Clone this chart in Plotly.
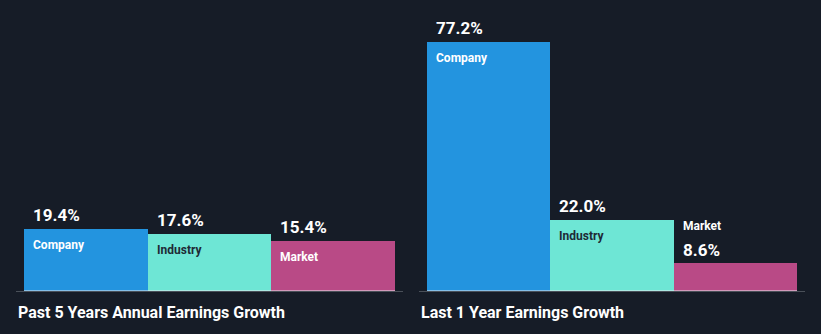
import plotly.graph_objects as go

categories = ["Company", "Industry", "Market"]
past5_values = [19.4, 17.6, 15.4]
last1_values = [77.2, 22.0, 8.6]
group_titles = ["Past 5 Years Annual Earnings Growth", "Last 1 Year Earnings Growth"]

colors = ["#2394df", "#6ee6d5", "#b94a86"]
label_colors = ["#ffffff", "#1e2a35", "#ffffff"]
BG = "#161c27"
W, H = 821, 334
FONT = "Roboto"

base_px = 291
px_per_unit = 3.22
y_top = base_px / px_per_unit
y_dom0 = (H - base_px) / H

# axis domains in pixels (line extends 8px past bars)
dom_left = (16 / W, 403 / W)
dom_right = (419 / W, 805 / W)
bar_px = (395 - 24) / 3.0
ext = 8 / bar_px

fig = go.Figure()
for i, (vals, xa, ya) in enumerate([(past5_values, "x", "y"), (last1_values, "x2", "y2")]):
    fig.add_trace(go.Bar(
        x=categories, y=vals, marker=dict(color=colors, line=dict(width=0)),
        width=1.0, xaxis=xa, yaxis=ya, hoverinfo="skip", showlegend=False,
    ))
    for j, (c, v) in enumerate(zip(categories, vals)):
        bar_h = v * px_per_unit
        if bar_h > 45:
            fig.add_annotation(x=j - 0.5, y=v, xref=xa, yref=ya, text=f"<b>{v:.1f}%</b>",
                               showarrow=False, xanchor="left", yanchor="middle",
                               xshift=7, yshift=14, font=dict(family=FONT, size=17, color="#ffffff"))
            fig.add_annotation(x=j - 0.5, y=v, xref=xa, yref=ya, text=f"<b>{c}</b>",
                               showarrow=False, xanchor="left", yanchor="middle",
                               xshift=7, yshift=-16, font=dict(family=FONT, size=12, color=label_colors[j]))
        else:
            fig.add_annotation(x=j - 0.5, y=v, xref=xa, yref=ya, text=f"<b>{v:.1f}%</b>",
                               showarrow=False, xanchor="left", yanchor="middle",
                               xshift=7, yshift=13, font=dict(family=FONT, size=17, color="#ffffff"))
            fig.add_annotation(x=j - 0.5, y=v, xref=xa, yref=ya, text=f"<b>{c}</b>",
                               showarrow=False, xanchor="left", yanchor="middle",
                               xshift=7, yshift=37, font=dict(family=FONT, size=12, color="#ffffff"))
    fig.add_shape(type="line", xref=xa, yref=ya, x0=-0.5, x1=2.5, y0=0, y1=0,
                  line=dict(color="#e8eaee", width=1))
    dom = dom_left if i == 0 else dom_right
    fig.add_annotation(x=dom[0], y=(H - 312) / H, xref="paper", yref="paper",
                       text=f"<b>{group_titles[i]}</b>", showarrow=False,
                       xanchor="left", yanchor="middle",
                       font=dict(family=FONT, size=16, color="#ffffff"))

axis_common = dict(showgrid=False, zeroline=False, showticklabels=False, ticks="",
                   showline=True, linecolor="#4a5059", linewidth=1,
                   range=[-0.5 - ext, 2.5 + ext], fixedrange=True)
yaxis_common = dict(showgrid=False, zeroline=False, showticklabels=False, ticks="",
                    showline=False, range=[0, y_top], domain=[y_dom0, 1], fixedrange=True)

fig.update_layout(
    width=W, height=H, margin=dict(l=0, r=0, t=0, b=0),
    paper_bgcolor=BG, plot_bgcolor=BG, bargap=0,
    xaxis=dict(domain=list(dom_left), anchor="y", **axis_common),
    xaxis2=dict(domain=list(dom_right), anchor="y2", **axis_common),
    yaxis=dict(anchor="x", **yaxis_common),
    yaxis2=dict(anchor="x2", **yaxis_common),
)
fig.write_html("out.html")
